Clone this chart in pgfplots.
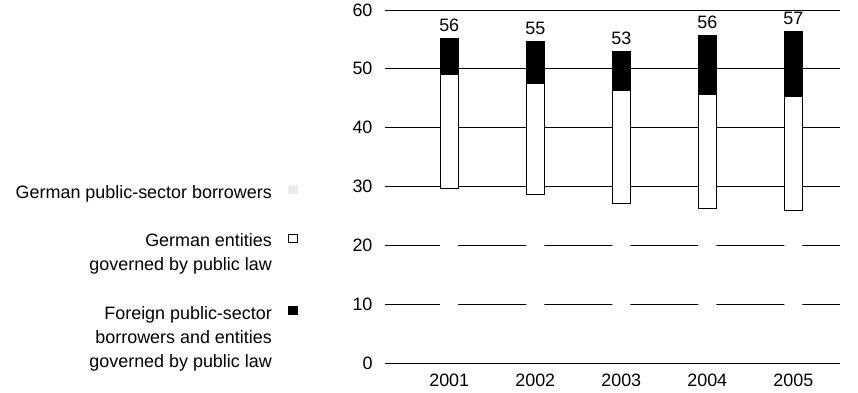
\documentclass[border=0pt]{standalone}
\usepackage{pgfplots}
\pgfplotsset{compat=1.18}
\usepackage{fontspec}
\setmainfont{Liberation Sans}
\newcommand{\chfont}{\fontsize{18}{24}\selectfont}
\begin{document}
\begin{tikzpicture}
\begin{axis}[
  name=ax,
  scale only axis, width=455bp, height=353bp,
  xmin=-0.747, xmax=4.543, ymin=0, ymax=60,
  ybar stacked, bar width=18bp, reverse stacked plots=false,
  xtick={0,1,2,3,4}, xticklabels={2001,2002,2003,2004,2005},
  ytick={0,10,20,30,40,50,60},
  ymajorgrids, major grid style={black, line width=0.9bp},
  axis line style={draw=none}, major tick style={draw=none},
  /pgf/number format/assume math mode=true,
  tick label style={font=\chfont},
  yticklabel style={xshift=-9bp},
  xticklabel style={yshift=-7bp},
  legend style={at={(axis description cs:-0.185,0.515)}, anchor=north east,
    draw=none, fill=none, font=\chfont, cells={align=right}, row sep=30bp,
    /tikz/every odd column/.append style={column sep=14bp}},
  legend plot pos=right,
  legend cell align=right,
  mylegend/.style={legend image code/.code={\draw[##1] (0bp,-1bp+#1) rectangle (9bp,7bp+#1);}},
]
\addplot[fill=white, draw=none,
  legend image code/.code={\draw[black!8, densely dotted] (0bp,-1bp) rectangle (9bp,7bp);}]
  coordinates {(0,29.7) (1,28.7) (2,27.2) (3,26.3) (4,26.0)};
\addlegendentry{German public-sector borrowers}
\addplot[fill=white, draw=black, line width=0.8bp, mylegend=12bp] coordinates {(0,19.3) (1,18.9) (2,19.2) (3,19.4) (4,19.3)};
\addlegendentry{German entities\\governed by public law}
\addplot[fill=black, draw=black, line width=0.8bp, mylegend=24bp]
  coordinates {(0,6.1) (1,7.0) (2,6.5) (3,9.9) (4,11.0)};
\addlegendentry{Foreign public-sector\\borrowers and entities\\governed by public law}
\end{axis}
\begin{axis}[
  scale only axis, width=455bp, height=353bp,
  xmin=-0.747, xmax=4.543, ymin=0, ymax=60,
  axis lines=none, clip=false,
]
\addplot[draw=none, mark=none,
  point meta=explicit symbolic,
  nodes near coords={\fontsize{18}{24}\selectfont\pgfplotspointmeta},
  nodes near coords style={anchor=south, yshift=4bp, text=black}]
  coordinates {(0,55.1)[56] (1,54.6)[55] (2,52.9)[53] (3,55.6)[56] (4,56.3)[57]};
\end{axis}
\path ([xshift=-385bp,yshift=-30bp]ax.south west) rectangle ([xshift=18bp,yshift=10bp]ax.north east);
\end{tikzpicture}
\end{document}
